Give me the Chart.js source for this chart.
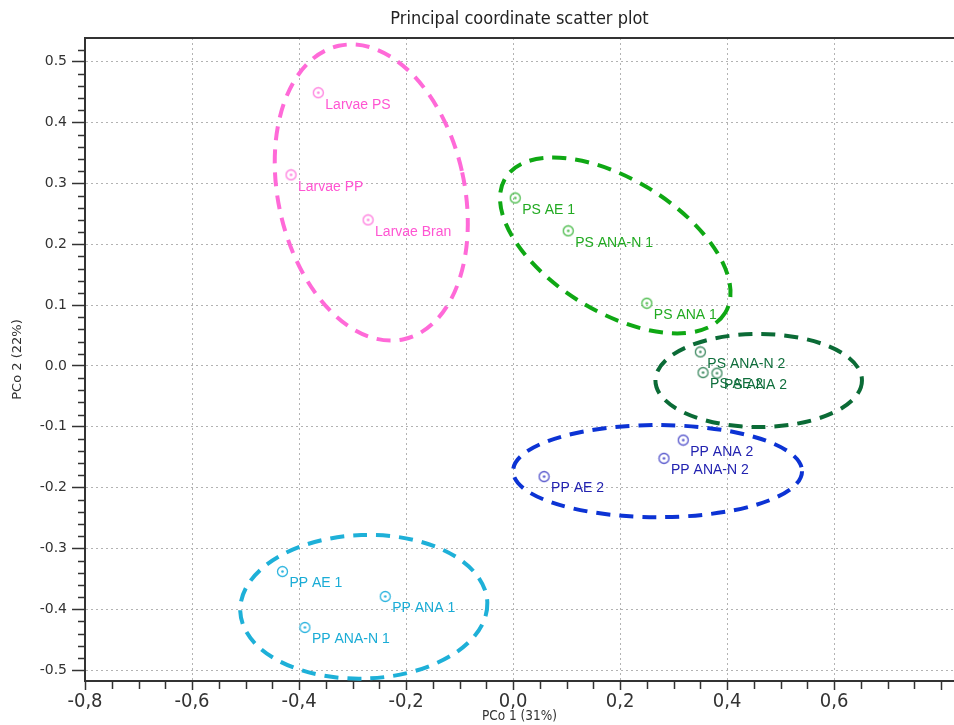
<!DOCTYPE html>
<html>
<head>
<meta charset="utf-8">
<script src="https://cdn.jsdelivr.net/npm/chart.js@4.4.0/dist/chart.umd.min.js"></script>
<style>
  html, body { margin: 0; padding: 0; background: #fff; }
  #wrap { width: 954px; height: 725px; position: relative; }
</style>
</head>
<body>
<div id="wrap"><canvas id="pcoChart"></canvas></div>
<script>
// PCo 1 / PCo 2 coordinates per sample group
const larvaeNames = ['Larvae PS', 'Larvae PP', 'Larvae Bran'];
const larvaeX = [-0.364, -0.415, -0.271];
const larvaeY = [0.449, 0.314, 0.240];

const ps1Names = ['PS AE 1', 'PS ANA-N 1', 'PS ANA 1'];
const ps1X = [0.004, 0.103, 0.250];
const ps1Y = [0.276, 0.222, 0.103];

const ps2Names = ['PS ANA-N 2', 'PS AE 2', 'PS ANA 2'];
const ps2X = [0.350, 0.355, 0.381];
const ps2Y = [0.023, -0.011, -0.012];

const pp2Names = ['PP ANA 2', 'PP ANA-N 2', 'PP AE 2'];
const pp2X = [0.318, 0.282, 0.058];
const pp2Y = [-0.122, -0.152, -0.182];

const pp1Names = ['PP AE 1', 'PP ANA 1', 'PP ANA-N 1'];
const pp1X = [-0.431, -0.239, -0.389];
const pp1Y = [-0.338, -0.379, -0.430];

// group outlines (centre + radii in axis units, rotation in degrees)
const groups = [
  { names: larvaeNames, xs: larvaeX, ys: larvaeY, marker: '#ff7fdf', text: '#ff55d2', line: '#ff6ad8',
    outline: { cx: -0.265, cy: 0.285, rx: 0.174, ry: 0.247, rot: -12.5 } },
  { names: ps1Names, xs: ps1X, ys: ps1Y, marker: '#4cbc4c', text: '#22aa22', line: '#0fa814',
    outline: { cx: 0.191, cy: 0.198, rx: 0.241, ry: 0.109, rot: 31.5 } },
  { names: ps2Names, xs: ps2X, ys: ps2Y, marker: '#3f8a62', text: '#0f6e3c', line: '#0b6b36',
    outline: { cx: 0.459, cy: -0.024, rx: 0.193, ry: 0.0765, rot: 0 } },
  { names: pp2Names, xs: pp2X, ys: pp2Y, marker: '#5555cc', text: '#2222b0', line: '#0c33d4',
    outline: { cx: 0.270, cy: -0.173, rx: 0.270, ry: 0.0757, rot: 0 } },
  { names: pp1Names, xs: pp1X, ys: pp1Y, marker: '#2fb5df', text: '#1aacd6', line: '#1eb0d8',
    outline: { cx: -0.279, cy: -0.396, rx: 0.231, ry: 0.118, rot: -2 } }
];

function makeMarker(color) {
  const c = document.createElement('canvas');
  c.width = 13; c.height = 13;
  const g = c.getContext('2d');
  g.strokeStyle = color;
  g.lineWidth = 1.3;
  g.beginPath(); g.arc(6.5, 6.5, 5, 0, Math.PI * 2); g.stroke();
  g.fillStyle = color;
  g.beginPath(); g.arc(6.5, 6.5, 1.3, 0, Math.PI * 2); g.fill();
  return c;
}

const outlinePlugin = {
  id: 'outlines',
  beforeDatasetsDraw(chart) {
    const { ctx, chartArea, scales: { x, y } } = chart;
    const ux = Math.abs(x.getPixelForValue(1) - x.getPixelForValue(0));
    const uy = Math.abs(y.getPixelForValue(1) - y.getPixelForValue(0));
    ctx.save();
    ctx.beginPath();
    ctx.rect(chartArea.left, chartArea.top, chartArea.right - chartArea.left, chartArea.bottom - chartArea.top);
    ctx.clip();
    groups.forEach(g => {
      const e = g.outline;
      ctx.beginPath();
      ctx.ellipse(x.getPixelForValue(e.cx), y.getPixelForValue(e.cy), e.rx * ux, e.ry * uy,
        e.rot * Math.PI / 180, 0, Math.PI * 2);
      ctx.setLineDash([14, 9]);
      ctx.lineWidth = 4;
      ctx.strokeStyle = g.line;
      ctx.stroke();
    });
    ctx.restore();
  }
};

const labelPlugin = {
  id: 'pointLabels',
  afterDatasetsDraw(chart) {
    const ctx = chart.ctx;
    ctx.save();
    ctx.font = '14px "Liberation Sans", Arial, sans-serif';
    ctx.textBaseline = 'middle';
    ctx.textAlign = 'left';
    chart.data.datasets.forEach((ds, i) => {
      const meta = chart.getDatasetMeta(i);
      ctx.fillStyle = groups[i].text;
      meta.data.forEach((pt, j) => {
        ctx.fillText(groups[i].names[j], pt.x + 7, pt.y + 12);
      });
    });
    ctx.restore();
  }
};

// top frame line + minor tick marks
const framePlugin = {
  id: 'frame',
  afterDraw(chart) {
    const { ctx, chartArea, scales: { x, y } } = chart;
    ctx.save();
    ctx.strokeStyle = '#333';
    ctx.lineWidth = 2;
    ctx.beginPath();
    ctx.moveTo(chartArea.left - 1, chartArea.top);
    ctx.lineTo(chartArea.right, chartArea.top);
    ctx.stroke();
    ctx.lineWidth = 1.5;
    ctx.beginPath();
    for (let k = -25; k <= 26; k++) {
      if (k % 5 === 0) continue;
      const py = Math.round(y.getPixelForValue(k * 0.02)) + 0.5;
      ctx.moveTo(chartArea.left - 7, py);
      ctx.lineTo(chartArea.left, py);
    }
    for (let k = -16; k <= 16; k++) {
      if (k % 4 === 0) continue;
      const px = Math.round(x.getPixelForValue(k * 0.05)) + 0.5;
      ctx.moveTo(px, chartArea.bottom);
      ctx.lineTo(px, chartArea.bottom + 8);
    }
    ctx.stroke();
    ctx.restore();
  }
};

const gridColor = '#b3b3b3';

new Chart(document.getElementById('pcoChart').getContext('2d'), {
  type: 'scatter',
  data: {
    datasets: groups.map(g => ({
      data: g.xs.map((v, i) => ({ x: v, y: g.ys[i] })),
      pointStyle: makeMarker(g.marker),
      pointRadius: 6,
      pointHoverRadius: 6
    }))
  },
  options: {
    responsive: true,
    maintainAspectRatio: false,
    animation: false,
    layout: { padding: 0, autoPadding: false },
    plugins: {
      legend: { display: false },
      tooltip: { enabled: false },
      title: {
        display: true,
        text: 'Principal coordinate scatter plot',
        fullSize: false,
        color: '#222',
        font: { family: '"Liberation Sans Narrow", "DejaVu Sans Condensed", sans-serif', size: 18, weight: 'normal' },
        padding: { top: 9, bottom: 7.4 }
      }
    },
    scales: {
      x: {
        type: 'linear',
        min: -0.8,
        max: 0.824,
        afterFit: s => { s.height = 44; s.paddingLeft = 0; s.paddingRight = 0; },
        border: { color: '#333', width: 2, dash: [2, 3] },
        grid: {
          color: c => (c.tick && Math.abs(c.tick.value) < 0.65 ? gridColor : 'rgba(0,0,0,0)'),
          tickColor: '#333',
          tickLength: 9,
          tickWidth: 1.5,
          lineWidth: 1
        },
        ticks: {
          stepSize: 0.2,
          includeBounds: false,
          padding: 0,
          maxRotation: 0,
          color: '#333',
          font: { family: '"Liberation Sans Narrow", "DejaVu Sans Condensed", sans-serif', size: 20 },
          callback: v => (v > 0.7 ? '' : (Math.abs(v) < 1e-9 ? '0,0' : v.toFixed(1).replace('.', ',')))
        },
        title: {
          display: true,
          text: 'PCo 1 (31%)',
          color: '#333',
          font: { family: '"Liberation Sans Narrow", "DejaVu Sans Condensed", sans-serif', size: 13.5 },
          padding: { top: 0, bottom: 0 }
        }
      },
      y: {
        type: 'linear',
        min: -0.518,
        max: 0.539,
        afterFit: s => { s.width = 85; },
        border: { color: '#333', width: 2, dash: [2, 3] },
        grid: {
          color: gridColor,
          tickColor: '#333',
          tickLength: 13,
          tickWidth: 1.5,
          lineWidth: 1
        },
        ticks: {
          stepSize: 0.1,
          includeBounds: false,
          padding: 5,
          color: '#333',
          font: { family: '"DejaVu Sans", sans-serif', size: 14 },
          callback: v => (Math.abs(v) < 1e-9 ? '0.0' : v.toFixed(1))
        },
        title: {
          display: true,
          text: 'PCo 2 (22%)',
          color: '#333',
          font: { family: '"DejaVu Sans", sans-serif', size: 13 },
          padding: { top: 10, bottom: 0 }
        }
      }
    }
  },
  plugins: [outlinePlugin, labelPlugin, framePlugin]
});
</script>
</body>
</html>
